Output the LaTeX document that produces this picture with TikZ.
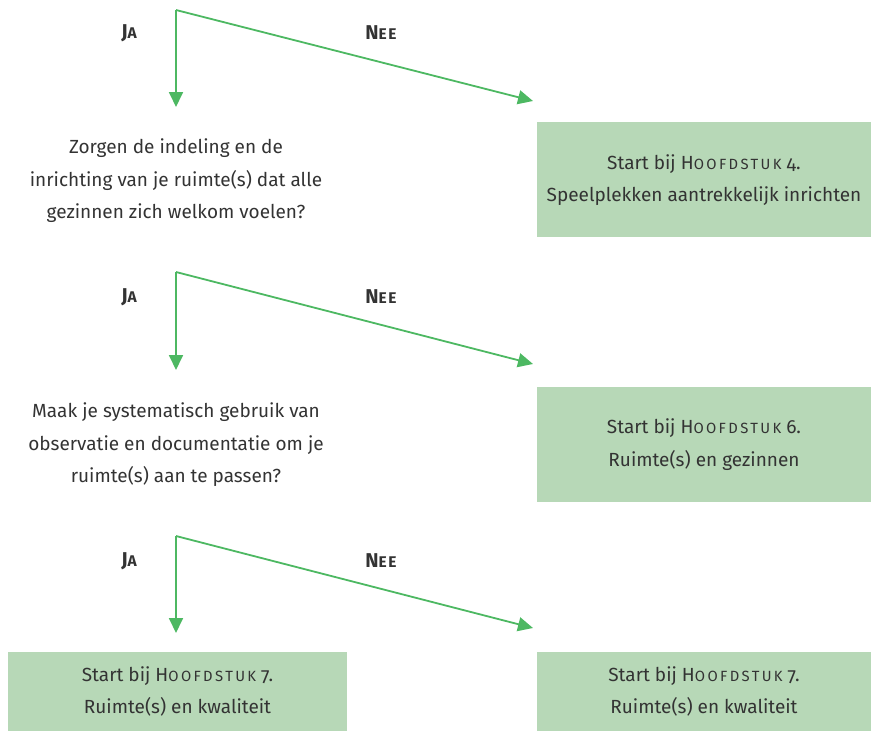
\documentclass[tikz,border=0pt]{standalone}
\usepackage{fontspec}
\setmainfont{Fira Sans}[Numbers=OldStyle]
\usetikzlibrary{arrows.meta}
\definecolor{arrowgreen}{HTML}{4DB862}
\definecolor{boxgreen}{HTML}{B7D8B7}
\definecolor{txt}{HTML}{333333}
\newfontfamily\scfont{Fira Sans}[LetterSpace=16]
\newfontfamily\scbfont{Fira Sans}[LetterSpace=10]
\newcommand\fsc[2]{#1{\scfont\fontsize{14.8}{14.8}\selectfont #2}}
\tikzset{
  txtfont/.style={font=\fontsize{19}{32.5}\selectfont, text=txt},
  question/.style={txtfont, align=center, inner sep=0pt},
  answerbox/.style={txtfont, align=center, fill=boxgreen, inner sep=0pt},
  yesno/.style={font=\bfseries\fontsize{20}{20}\selectfont, text=txt, inner sep=0pt},
  flow/.style={draw=arrowgreen, line width=1.8pt, -{Triangle[length=15pt,width=14pt]}},
}
\newcommand\ja{J{\scbfont\bfseries\fontsize{15.5}{15.5}\selectfont A}}
\newcommand\nee{N{\scbfont\bfseries\fontsize{15.5}{15.5}\selectfont EE}}
\begin{document}
\begin{tikzpicture}[x=1pt,y=-1pt]
\useasboundingbox (0,0) rectangle (871,731);
% set 1
\coordinate (v1) at (176,10);
\coordinate (d1) at (176,107);
\coordinate (r1) at (533,101);
\draw[flow] (v1) -- (d1);
\draw[flow] (v1) -- (r1);
\node[yesno] (ja1) at (129,33) {\ja};
\node[yesno] (nee1) at (381,33) {\nee};
\node[question] (q1) at (176,181) {Zorgen de indeling en de\\inrichting van je ruimte(s) dat alle\\gezinnen zich welkom voelen?};
\node[answerbox, minimum width=334pt, minimum height=115pt] (b1) at (704,179.5) {\rule{0pt}{16pt}Start bij \fsc{H}{OOFDSTUK} 4.\\Speelplekken aantrekkelijk inrichten};
% set 2
\coordinate (v2) at (176,272);
\coordinate (d2) at (176,370);
\coordinate (r2) at (533,364);
\draw[flow] (v2) -- (d2);
\draw[flow] (v2) -- (r2);
\node[yesno] (ja2) at (129,297) {\ja};
\node[yesno] (nee2) at (381,297) {\nee};
\node[question] (q2) at (176,445) {Maak je systematisch gebruik van\\observatie en documentatie om je\\ruimte(s) aan te passen?};
\node[answerbox, minimum width=334pt, minimum height=115pt] (b2) at (704,444.5) {Start bij \fsc{H}{OOFDSTUK} 6.\\Ruimte(s) en gezinnen};
% set 3
\coordinate (v3) at (176,536);
\coordinate (d3) at (176,633);
\coordinate (r3) at (533,628);
\draw[flow] (v3) -- (d3);
\draw[flow] (v3) -- (r3);
\node[yesno] (ja3) at (129,561) {\ja};
\node[yesno] (nee3) at (381,561) {\nee};
\node[answerbox, minimum width=339pt, minimum height=79pt] (b3) at (177.5,691.5) {Start bij \fsc{H}{OOFDSTUK} 7.\\Ruimte(s) en kwaliteit};
\node[answerbox, minimum width=334pt, minimum height=79pt] (b4) at (704,691.5) {Start bij \fsc{H}{OOFDSTUK} 7.\\Ruimte(s) en kwaliteit};
\end{tikzpicture}
\end{document}
